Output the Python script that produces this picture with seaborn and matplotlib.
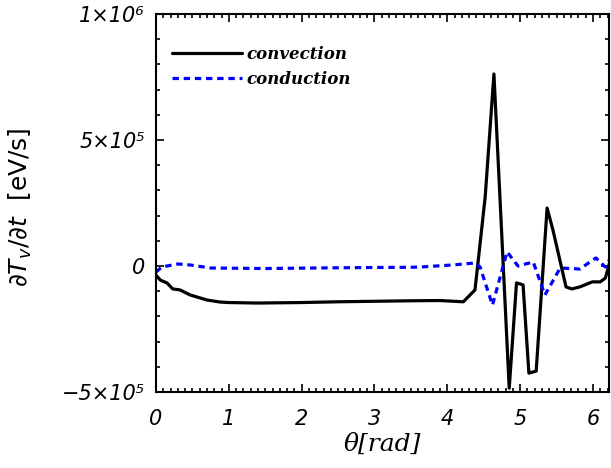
import numpy as np
import pandas as pd
import matplotlib
matplotlib.use("Agg")
import matplotlib.pyplot as plt
import seaborn as sns
from matplotlib.ticker import MultipleLocator, FixedLocator, FixedFormatter

# ---- data ----
conv_theta = [0.0, 0.06, 0.15, 0.23, 0.33, 0.47, 0.70, 0.88, 1.0, 1.4, 2.0, 2.5, 3.0,
              3.5, 3.9, 4.22, 4.38, 4.52, 4.64, 4.85, 4.95, 5.04, 5.12, 5.22, 5.37,
              5.45, 5.63, 5.71, 5.82, 5.99, 6.10, 6.17, 6.25]
conv_vals = [-0.36, -0.56, -0.67, -0.91, -0.95, -1.15, -1.35, -1.43, -1.45, -1.47,
             -1.45, -1.42, -1.40, -1.38, -1.37, -1.42, -0.95, 2.74, 7.62, -4.85,
             -0.67, -0.75, -4.25, -4.17, 2.30, 1.43, -0.83, -0.91, -0.83, -0.63,
             -0.63, -0.48, 0.36]
cond_theta = [0.0, 0.08, 0.15, 0.30, 0.47, 0.75, 1.5, 2.5, 3.5, 3.63, 4.07, 4.38,
              4.45, 4.62, 4.82, 4.97, 5.18, 5.34, 5.55, 5.82, 6.04, 6.17, 6.25]
cond_vals = [-0.24, -0.04, 0.0, 0.08, 0.04, -0.08, -0.10, -0.07, -0.05, -0.04, 0.04,
             0.12, -0.04, -1.55, 0.56, 0.0, 0.16, -1.15, -0.08, -0.12, 0.32, -0.04, 0.36]
series_labels = ["convection", "conduction"]
x_ticks = [0, 1, 2, 3, 4, 5, 6]
y_ticks = [-5e5, 0, 5e5, 1e6]
y_tick_labels = ["\u22125\u00d710\u2075", "0", "5\u00d710\u2075", "1\u00d710\u2076"]

scale = 1e5
df_conv = pd.DataFrame({"theta": conv_theta, "v": np.array(conv_vals) * scale})
df_cond = pd.DataFrame({"theta": cond_theta, "v": np.array(cond_vals) * scale})

sns.set_style("ticks")
plt.rcParams["font.family"] = ["DejaVu Sans"]
plt.rcParams["text.color"] = "black"
plt.rcParams["axes.labelcolor"] = "black"
plt.rcParams["xtick.color"] = "black"
plt.rcParams["ytick.color"] = "black"

fig = plt.figure(figsize=(6.11, 4.68), dpi=100)
ax = fig.add_axes([156 / 611, 76 / 468, 453 / 611, 378 / 468])

sns.lineplot(data=df_conv, x="theta", y="v", ax=ax, color="black", lw=2.3,
             sort=False, label=series_labels[0])
sns.lineplot(data=df_cond, x="theta", y="v", ax=ax, color="#0000ff", lw=2.3,
             sort=False, label=series_labels[1], linestyle=(0, (2.0, 1.5)))

ax.set_xlim(0, 6.22)
ax.set_ylim(-5e5, 1e6)

ax.xaxis.set_major_locator(FixedLocator(x_ticks))
ax.xaxis.set_minor_locator(MultipleLocator(0.1))
ax.yaxis.set_major_locator(FixedLocator(y_ticks))
ax.yaxis.set_major_formatter(FixedFormatter(y_tick_labels))
ax.yaxis.set_minor_locator(MultipleLocator(1e5))

ax.tick_params(which="both", direction="in", top=True, right=True, width=1.2,
               colors="black", labelcolor="black")
ax.tick_params(which="major", length=6, labelsize=15)
ax.tick_params(axis="y", which="major", pad=8)
ax.tick_params(axis="x", which="major", pad=12)
ax.tick_params(which="minor", length=3)
for lab in ax.get_xticklabels() + ax.get_yticklabels():
    lab.set_fontstyle("italic")
for s in ax.spines.values():
    s.set_linewidth(1.5)
    s.set_color("black")

ax.set_xlabel("\u03b8[rad]", family="DejaVu Serif", style="italic", fontsize=18,
              labelpad=3, color="black")
ax.set_ylabel(r"$\partial T_v/\partial t$  [eV/s]", fontsize=18, color="black")
ax.yaxis.set_label_coords(-0.27, 0.49)

leg = ax.legend(loc="upper left", bbox_to_anchor=(0.035, 0.915), frameon=False,
                borderaxespad=0, borderpad=0, handlelength=4.2, handletextpad=0.3,
                labelspacing=0.45,
                prop={"family": "DejaVu Serif", "style": "italic", "weight": "bold",
                      "size": 12})

fig.savefig("out.png", dpi=100)
